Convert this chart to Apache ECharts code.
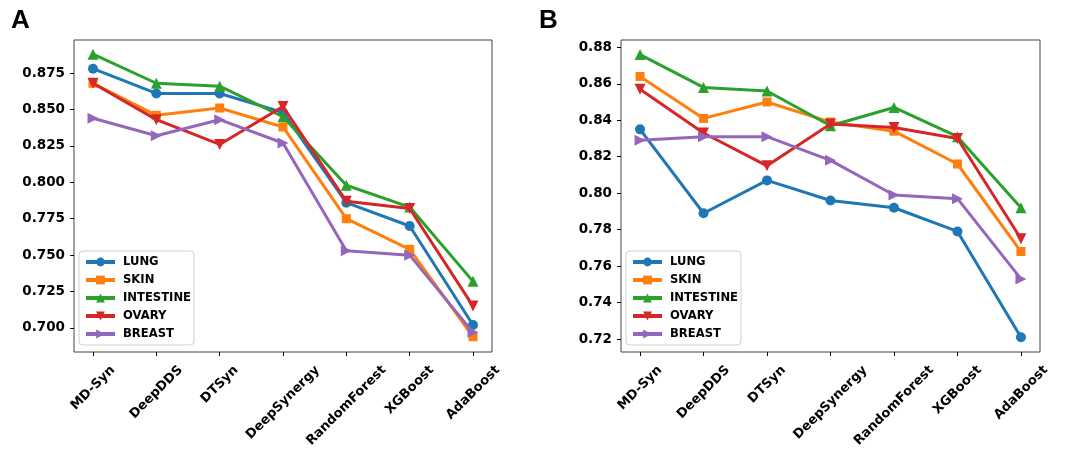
<!DOCTYPE html>
<html>
<head>
<meta charset="utf-8">
<script src="https://cdn.jsdelivr.net/npm/echarts@6/dist/echarts.min.js"></script>
<style>
  html, body { margin: 0; padding: 0; background: #fff; }
  #chart { width: 1082px; height: 455px; }
</style>
</head>
<body>
<div id="chart"></div>
<script>
const categories = ['MD-Syn', 'DeepDDS', 'DTSyn', 'DeepSynergy', 'RandomForest', 'XGBoost', 'AdaBoost'];
const seriesNames = ['LUNG', 'SKIN', 'INTESTINE', 'OVARY', 'BREAST'];

// panel A
const lungA = [0.878, 0.861, 0.861, 0.848, 0.786, 0.770, 0.702];
const skinA = [0.868, 0.846, 0.851, 0.838, 0.775, 0.754, 0.694];
const intestineA = [0.888, 0.868, 0.866, 0.845, 0.798, 0.783, 0.732];
const ovaryA = [0.868, 0.843, 0.826, 0.852, 0.787, 0.782, 0.715];
const breastA = [0.844, 0.832, 0.843, 0.827, 0.753, 0.750, 0.697];
const ticksA = [0.700, 0.725, 0.750, 0.775, 0.800, 0.825, 0.850, 0.875];

// panel B
const lungB = [0.835, 0.789, 0.807, 0.796, 0.792, 0.779, 0.721];
const skinB = [0.864, 0.841, 0.850, 0.839, 0.834, 0.816, 0.768];
const intestineB = [0.876, 0.858, 0.856, 0.837, 0.847, 0.831, 0.792];
const ovaryB = [0.857, 0.833, 0.815, 0.838, 0.836, 0.830, 0.775];
const breastB = [0.829, 0.831, 0.831, 0.818, 0.799, 0.797, 0.753];
const ticksB = [0.72, 0.74, 0.76, 0.78, 0.80, 0.82, 0.84, 0.86, 0.88];

const colors = ['#1f77b4', '#ff7f0e', '#2ca02c', '#d62728', '#9467bd'];
const symbols = ['circle', 'rect', 'triangle', 'triangle', 'triangle'];
const rotations = [0, 0, 0, 180, -90];
const symbolSizes = [10, 9, 11, 11, 11];

const FONT = 'DejaVu Sans';

// measure label length so rotated labels can be centred under ticks like matplotlib
const ctx = document.createElement('canvas').getContext('2d');
ctx.font = 'bold 13px "' + FONT + '"';
const richLabels = {};
categories.forEach((c, i) => {
  const L = ctx.measureText(c).width;
  richLabels['c' + i] = {
    fontFamily: FONT, fontWeight: 'bold', fontSize: 13, color: '#000', lineHeight: 15,
    padding: [L / 2, L / 2, 0, 0],
  };
});

// framed boxes (matplotlib axes), x padded by 0.3 category on each side
const boxes = [
  { left: 74, right: 492, top: 40, bottom: 103 },
  { left: 621, right: 1040, top: 40, bottom: 103 },
];

const grids = [];
boxes.forEach((b) => {
  grids.push({ show: true, borderColor: '#444', borderWidth: 1, left: b.left, width: b.right - b.left, top: b.top, bottom: b.bottom });
  // category band grid whose band centres fall at 0.3/6.6 .. 6.3/6.6 of the box
  const unit = (b.right - b.left) / 6.6;
  grids.push({ show: false, left: b.left + 0.3 * unit - unit / 2, width: unit * 7, top: b.top, bottom: b.bottom });
});

function boxX(gi) {
  return { type: 'value', gridIndex: gi, show: false };
}
function catX(gi) {
  return {
    type: 'category', gridIndex: gi, data: categories, boundaryGap: true,
    axisLine: { show: false, onZero: false },
    splitLine: { show: false },
    axisTick: { show: true, alignWithLabel: true, interval: 0, length: 4, lineStyle: { color: '#000' } },
    axisLabel: {
      interval: 0, rotate: 45, align: 'center', verticalAlign: 'middle', margin: 16,
      formatter: (v, i) => '{c' + i + '|' + v + '}',
      rich: richLabels,
    },
  };
}
function boxY(gi, min, max, ticks, digits) {
  return {
    type: 'value', gridIndex: gi, min: min, max: max,
    axisLine: { show: false, onZero: false },
    splitLine: { show: false },
    axisTick: { show: true, customValues: ticks, length: 4, lineStyle: { color: '#000' } },
    axisLabel: {
      customValues: ticks, margin: 9, color: '#000',
      fontFamily: FONT, fontWeight: 'bold', fontSize: 13.5,
      formatter: (v) => v.toFixed(digits),
    },
  };
}
function dataY(gi, min, max) {
  return { type: 'value', gridIndex: gi, min: min, max: max, show: false };
}

function makeSeries(ai, dataList) {
  return dataList.map((vals, k) => ({
    name: seriesNames[k],
    type: 'line',
    xAxisIndex: ai, yAxisIndex: ai,
    data: vals,
    symbol: symbols[k],
    symbolRotate: rotations[k],
    symbolSize: symbolSizes[k],
    showAllSymbol: true,
    color: colors[k],
    lineStyle: { width: 3, color: colors[k] },
    itemStyle: { color: colors[k] },
    emphasis: { disabled: true },
    animation: false,
    z: 2 + k,
  }));
}

function makeLegend(left) {
  return {
    orient: 'vertical', left: left, top: 251,
    itemWidth: 29, itemHeight: 11, itemGap: 6,
    padding: [5, 3, 5, 5],
    borderColor: '#d0d0d0', borderWidth: 1, borderRadius: 4,
    backgroundColor: 'rgba(255,255,255,0.85)',
    lineStyle: { width: 4 },
    textStyle: { fontFamily: FONT, fontWeight: 'bold', fontSize: 11.6, color: '#000', lineHeight: 12, padding: [0, 0, 0, 3] },
    data: seriesNames,
  };
}

const rangeA = [0.6835, 0.8977];
const rangeB = [0.7129, 0.884];

const chart = echarts.init(document.getElementById('chart'), null, { renderer: 'canvas' });
chart.setOption({
  animation: false,
  backgroundColor: '#fff',
  title: [
    { text: 'A', left: 6, top: 3, textStyle: { fontFamily: 'Liberation Sans', fontWeight: 'bold', fontSize: 26, color: '#000' } },
    { text: 'B', left: 534, top: 3, textStyle: { fontFamily: 'Liberation Sans', fontWeight: 'bold', fontSize: 26, color: '#000' } },
  ],
  grid: grids,
  legend: [makeLegend(79), makeLegend(626)],
  xAxis: [boxX(0), catX(1), boxX(2), catX(3)],
  yAxis: [
    boxY(0, rangeA[0], rangeA[1], ticksA, 3),
    dataY(1, rangeA[0], rangeA[1]),
    boxY(2, rangeB[0], rangeB[1], ticksB, 2),
    dataY(3, rangeB[0], rangeB[1]),
  ],
  series: [
    ...makeSeries(1, [lungA, skinA, intestineA, ovaryA, breastA]),
    ...makeSeries(3, [lungB, skinB, intestineB, ovaryB, breastB]),
  ],
});
</script>
</body>
</html>
